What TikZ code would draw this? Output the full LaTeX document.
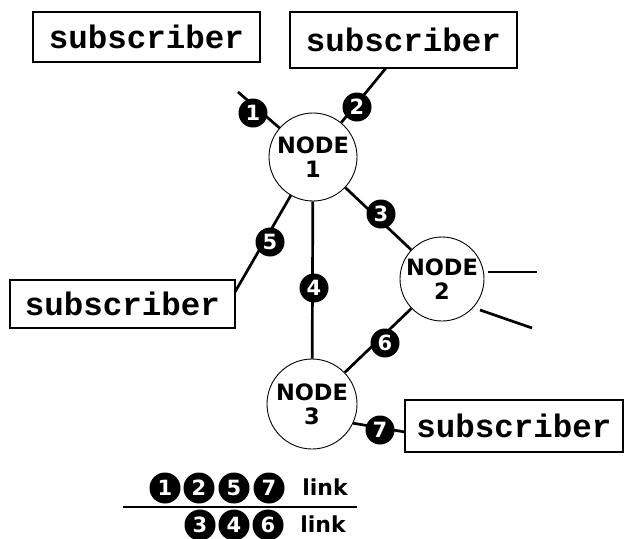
\documentclass[tikz,border=0pt]{standalone}
\usepackage{fontspec}
\setmainfont{DejaVu Sans}
\newfontfamily\subfont{Liberation Mono}
\begin{document}
\begin{tikzpicture}[x=1pt,y=-1pt,
  subbox/.style={draw,line width=2.8pt,inner sep=0pt,font=\subfont\bfseries\fontsize{32.5}{34}\selectfont},
  netnode/.style={circle,draw,line width=0.9pt,minimum size=88pt,inner sep=0pt,align=center,font=\bfseries\fontsize{22.5}{24}\selectfont},
  badge/.style={circle,fill=black,text=white,minimum size=29pt,inner sep=0pt,font=\bfseries\fontsize{21}{21}\selectfont},
  linkline/.style={line width=2.7pt},
  linktext/.style={font=\bfseries\fontsize{22}{22}\selectfont}]
\useasboundingbox (0,0) rectangle (628,538);
% subscriber boxes
\node[subbox,minimum width=227pt,minimum height=50pt] (s1) at (146.5,37) {subscriber};
\node[subbox,minimum width=227pt,minimum height=56pt] (s2) at (403.5,40) {subscriber};
\node[subbox,minimum width=225pt,minimum height=48pt] (s3) at (122.5,304) {subscriber};
\node[subbox,minimum width=218pt,minimum height=52pt] (s4) at (514,426) {subscriber};
% network nodes
\node[netnode] (n1) at (313,157) {NODE\\1};
\node[netnode,minimum size=84pt] (n2) at (442,279) {NODE\\2};
\node[netnode,minimum size=90pt] (n3) at (312,404) {NODE\\3};
% free ends
\coordinate (e1) at (238,92);
\coordinate (c2) at (386,68);
\coordinate (c5) at (235,292);
\coordinate (c7) at (405,432);
\coordinate (e2a) at (488,272);
\coordinate (e2b) at (537,272);
\coordinate (e2c) at (480,310);
\coordinate (e2d) at (532,328);
% links
\draw[linkline] (e1) -- (n1);
\draw[linkline] (c2) -- (n1);
\draw[linkline] (n1) -- (n2);
\draw[linkline] (n1) -- (n3);
\draw[linkline] (n1) -- (c5);
\draw[linkline] (n2) -- (n3);
\draw[linkline] (n3.-25) -- (c7);
\draw[linkline] (e2a) -- (e2b);
\draw[linkline] (e2c) -- (e2d);
% badges
\node[badge] (b1) at (253,113) {1};
\node[badge] (b2) at (357,107) {2};
\node[badge] (b3) at (381,214) {3};
\node[badge] (b4) at (314,288) {4};
\node[badge] (b5) at (270,242) {5};
\node[badge] (b6) at (385,343) {6};
\node[badge] (b7) at (380,430) {7};
% legend
\node[badge,minimum size=31pt] (k1) at (165,488) {1};
\node[badge,minimum size=31pt] (k2) at (199,488) {2};
\node[badge,minimum size=31pt] (k5) at (234,488) {5};
\node[badge,minimum size=31pt] (k7) at (269,488) {7};
\node[linktext] (t1) at (325,487) {link};
\node[badge,minimum size=31pt] (k3) at (200,525) {3};
\node[badge,minimum size=31pt] (k4) at (234,525) {4};
\node[badge,minimum size=31pt] (k6) at (268,525) {6};
\node[linktext] (t2) at (323,524) {link};
\coordinate (la) at (123,507);
\coordinate (lb) at (357,507);
\draw[line width=1.8pt] (la) -- (lb);
\end{tikzpicture}
\end{document}
